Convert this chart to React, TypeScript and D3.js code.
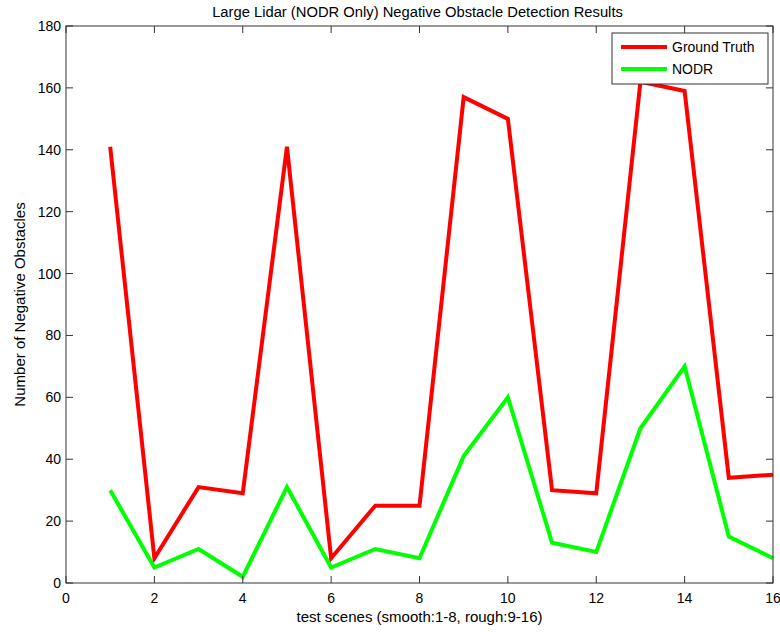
import React from "react";
import * as d3 from "d3";

const scenes = [1, 2, 3, 4, 5, 6, 7, 8, 9, 10, 11, 12, 13, 14, 15, 16];
const groundTruth = [141, 8, 31, 29, 141, 8, 25, 25, 157, 150, 30, 29, 162, 159, 34, 35];
const nodr = [30, 5, 11, 2, 31, 5, 11, 8, 41, 60, 13, 10, 50, 70, 15, 8];
const xTicks = [0, 2, 4, 6, 8, 10, 12, 14, 16];
const yTicks = [0, 20, 40, 60, 80, 100, 120, 140, 160, 180];
const seriesNames = ["Ground Truth", "NODR"];
const seriesColors = ["#ff0000", "#00ff00"];

const W = 780, H = 632;
const L = 66, R = 773, T = 26, B = 583;
const FONT = "'Liberation Sans', Arial, Helvetica, sans-serif";

export default function App() {
  const x = d3.scaleLinear().domain([0, 16]).range([L, R]);
  const y = d3.scaleLinear().domain([0, 180]).range([B, T]);
  const line = d3
    .line<number>()
    .x((_, i) => x(scenes[i]))
    .y((d) => y(d));
  const series = [groundTruth, nodr];
  const tk = 7;
  const axisColor = "#333";
  return (
    <svg
      width={W}
      height={H}
      style={{ position: "absolute", left: 0, top: 0, background: "#fff" }}
      fontFamily={FONT}
    >
      <rect x={0} y={0} width={W} height={H} fill="#fff" />
      <text x={(L + R) / 2 - 2} y={17} textAnchor="middle" fontSize={14.75} fill="#000">
        Large Lidar (NODR Only) Negative Obstacle Detection Results
      </text>
      {series.map((s, i) => (
        <path
          key={i}
          d={line(s) || ""}
          fill="none"
          stroke={seriesColors[i]}
          strokeWidth={4}
          strokeLinejoin="miter"
        />
      ))}
      <rect x={L} y={T} width={R - L} height={B - T} fill="none" stroke={axisColor} strokeWidth={1} />
      {xTicks.map((t) => (
        <g key={"x" + t}>
          <line x1={x(t)} x2={x(t)} y1={B} y2={B - tk} stroke={axisColor} />
          <line x1={x(t)} x2={x(t)} y1={T} y2={T + tk} stroke={axisColor} />
          <text x={x(t)} y={603} textAnchor="middle" fontSize={14} fill="#000">
            {t}
          </text>
        </g>
      ))}
      {yTicks.map((t) => (
        <g key={"y" + t}>
          <line x1={L} x2={L + tk} y1={y(t)} y2={y(t)} stroke={axisColor} />
          <line x1={R} x2={R - tk} y1={y(t)} y2={y(t)} stroke={axisColor} />
          <text x={61} y={y(t) + 5} textAnchor="end" fontSize={14} fill="#000">
            {t}
          </text>
        </g>
      ))}
      <text x={(L + R) / 2} y={622} textAnchor="middle" fontSize={15} fill="#000">
        test scenes (smooth:1-8, rough:9-16)
      </text>
      <text
        transform={`translate(25,${(T + B) / 2}) rotate(-90)`}
        textAnchor="middle"
        fontSize={15}
        fill="#000"
      >
        Number of Negative Obstacles
      </text>
      <rect x={612} y={33} width={156} height={51} fill="#fff" stroke={axisColor} />
      {seriesNames.map((n, i) => (
        <g key={n}>
          <line x1={621} x2={667} y1={47 + i * 22} y2={47 + i * 22} stroke={seriesColors[i]} strokeWidth={4} />
          <text x={672} y={47 + i * 22 + 5} fontSize={14} fill="#000">
            {n}
          </text>
        </g>
      ))}
    </svg>
  );
}
